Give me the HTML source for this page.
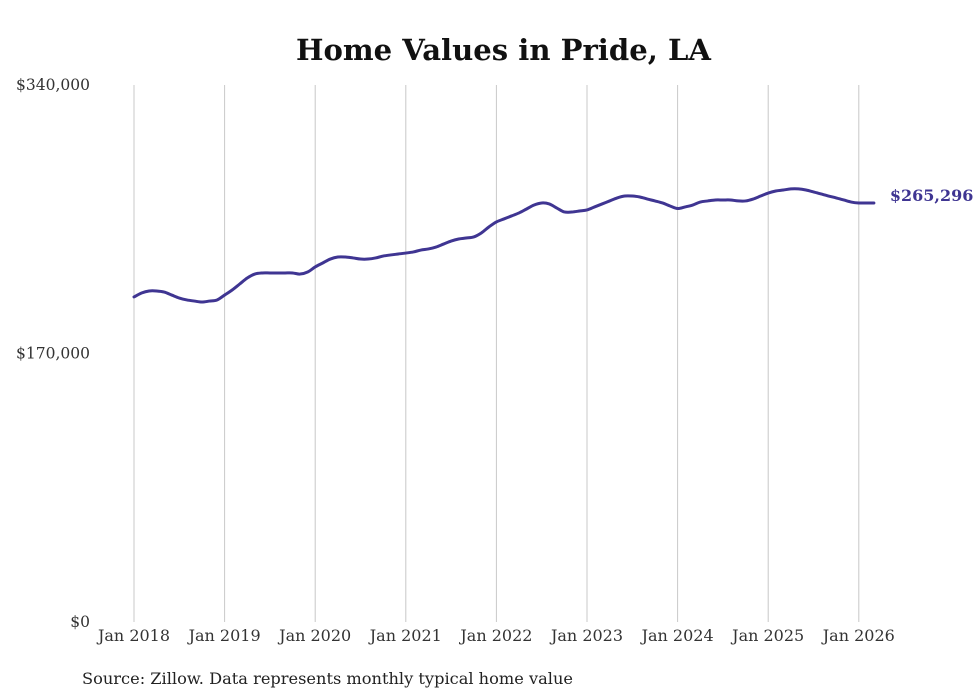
<!DOCTYPE html>
<html><head><meta charset="utf-8"><style>
html,body{margin:0;padding:0;background:#fff;}
svg{display:block;font-family:"DejaVu Serif","Liberation Serif",serif;}
</style></head><body>
<svg id="chart" width="980" height="699">
<text x="296" y="60" textLength="415" lengthAdjust="spacingAndGlyphs" font-size="29" font-weight="bold" fill="#111">Home Values in Pride, LA</text>
<g id="grid"></g><g id="yax"></g><g id="xax"></g><g id="series"></g>
<text x="82" y="684" textLength="491" lengthAdjust="spacingAndGlyphs" font-size="16" fill="#222">Source: Zillow. Data represents monthly typical home value</text>
</svg>
<script>
const yTicks=[0,170000,340000];
const yTickLabels=["$0","$170,000","$340,000"];
const xYears=[2018,2019,2020,2021,2022,2023,2024,2025,2026];
const xTickLabels=["Jan 2018","Jan 2019","Jan 2020","Jan 2021","Jan 2022","Jan 2023","Jan 2024","Jan 2025","Jan 2026"];
const startYear=2018;
const valuesK=[
205.8,208.3,209.6,209.6,208.9,207.0,205.1,203.9,203.2,202.6,203.2,203.9,
207.0,210.2,214.0,217.8,220.3,221.0,221.0,221.0,221.0,221.0,220.3,221.6,
224.8,227.3,229.8,231.1,231.1,230.5,229.8,229.8,230.5,231.7,232.4,233.0,
233.6,234.3,235.5,236.2,237.4,239.3,241.2,242.5,243.1,243.8,246.3,250.1,
253.3,255.2,257.1,259.0,261.5,264.0,265.3,264.7,262.1,259.6,259.6,260.2,
260.9,262.8,264.7,266.6,268.5,269.7,269.7,269.1,267.8,266.6,265.3,263.4,
261.8,262.8,264.0,265.9,266.6,267.2,267.2,267.2,266.6,266.6,267.8,269.7,
271.6,272.9,273.5,274.2,274.2,273.5,272.3,271.0,269.7,268.5,267.2,265.9,
265.3,265.3,265.296];
const lastLabel="$265,296";
const NS="http://www.w3.org/2000/svg";
const x0=134,pxPerYear=90.6,yBase=622,yTop=85,yMax=340000;
function xs(t){return x0+(t-startYear)*pxPerYear;}
function ys(v){return yBase-(v/yMax)*(yBase-yTop);}
function mk(tag,attrs,parent){const e=document.createElementNS(NS,tag);for(const k in attrs)e.setAttribute(k,attrs[k]);parent.appendChild(e);return e;}
const grid=document.getElementById('grid'),yax=document.getElementById('yax'),xax=document.getElementById('xax'),ser=document.getElementById('series');
xYears.forEach((yr,i)=>{
 const l=mk('line',{x1:xs(yr),x2:xs(yr),y1:yTop,y2:yBase,stroke:'#c8c8c8','stroke-width':1},grid);
 
 
 const t=mk('text',{x:xs(yr),y:641,'text-anchor':'middle','font-size':16,fill:'#333'},xax);
 t.textContent=xTickLabels[i];
 
 
});
yTicks.forEach((v,i)=>{
 const t=mk('text',{x:90,y:ys(v)+5,'text-anchor':'end','font-size':15.5,fill:'#333'},yax);
 t.textContent=yTickLabels[i];
 
 
});
const pts=valuesK.map((v,i)=>[xs(startYear+i/12),ys(v*1000)]);
let d='M'+pts[0][0]+','+pts[0][1];
for(let i=0;i<pts.length-1;i++){
 const p0=pts[Math.max(0,i-1)],p1=pts[i],p2=pts[i+1],p3=pts[Math.min(pts.length-1,i+2)];
 const c1x=p1[0]+(p2[0]-p0[0])/6,c1y=p1[1]+(p2[1]-p0[1])/6,c2x=p2[0]-(p3[0]-p1[0])/6,c2y=p2[1]-(p3[1]-p1[1])/6;
 d+=` C${c1x},${c1y} ${c2x},${c2y} ${p2[0]},${p2[1]}`;
}
const path=mk('path',{d:d,fill:'none',stroke:'#3f3592','stroke-width':3,'stroke-linejoin':'round','stroke-linecap':'round'},ser);


const last=pts[pts.length-1];
const lab=mk('text',{x:last[0]+16,y:last[1]-2,'font-size':16,'font-weight':'bold',fill:'#3f3592'},ser);
lab.textContent=lastLabel;


</script>
</body></html>
